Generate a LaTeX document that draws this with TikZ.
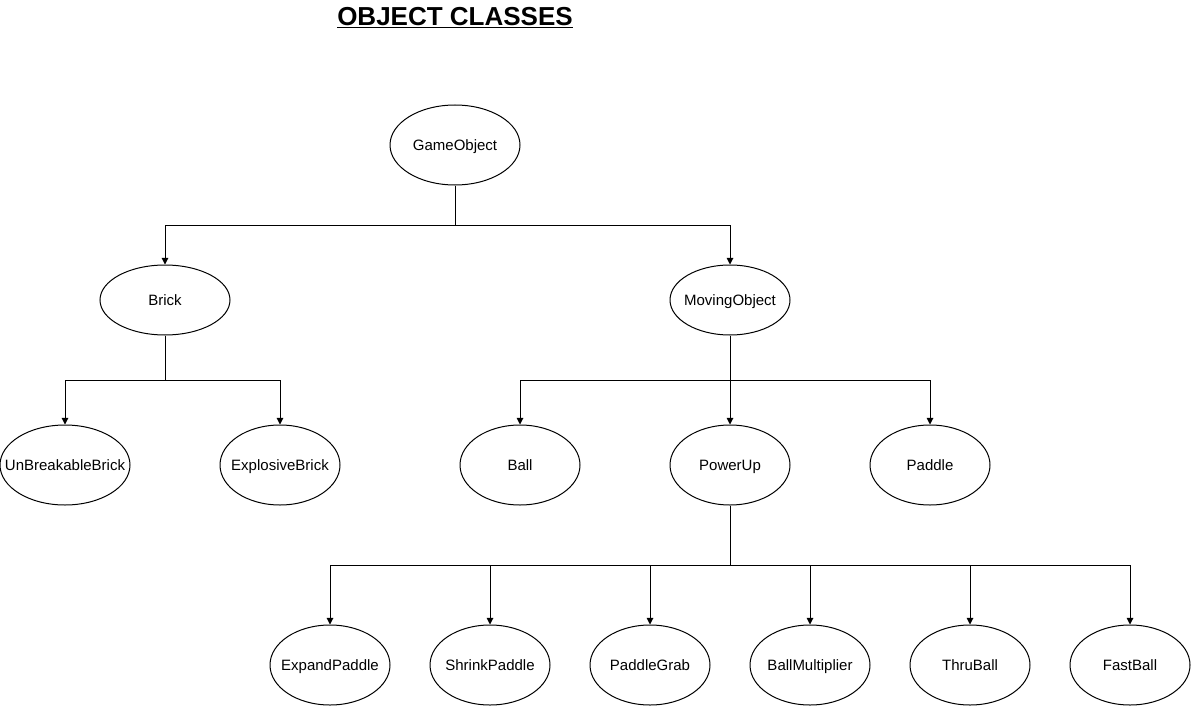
\documentclass[tikz,border=0pt]{standalone}
\usepackage{fontspec}
\setmainfont{Liberation Sans}
\usetikzlibrary{shapes.geometric,arrows.meta}
\begin{document}
\begin{tikzpicture}[x=0.75pt,y=-0.75pt,
  oval/.style={ellipse,draw=black,line width=0.75pt,inner sep=0pt},
  w120/.style={minimum width=90pt,minimum height=60pt},
  w130/.style={minimum width=97.5pt,minimum height=60pt},
  w130s/.style={minimum width=97.5pt,minimum height=52.5pt},
  w120s/.style={minimum width=90pt,minimum height=52.5pt},
  lbl/.style={font=\fontsize{11.25}{13}\selectfont,inner sep=0pt,text height=8pt,text depth=0pt},
  ln/.style={line width=0.75pt},
  arr/.style={line width=0.75pt,-{Triangle[length=5pt,width=5pt]}}]
\useasboundingbox (0,0) rectangle (1191,706);
\node[font=\fontsize{19.5}{22}\selectfont\bfseries,text height=14pt,text depth=0pt] (title) at (455,16) {\underline{OBJECT CLASSES}};
% nodes
\node[oval,w130] (go) at (455,145) {};
\node[lbl] (tgo) at (go) {GameObject};
\node[oval,w130s] (brick) at (165,300) {};
\node[lbl] (tbrick) at (brick) {Brick};
\node[oval,w120s] (mo) at (730,300) {};
\node[lbl] (tmo) at (mo) {MovingObject};
\node[oval,w130] (ubb) at (65,465) {};
\node[lbl] (tubb) at (ubb) {UnBreakableBrick};
\node[oval,w120] (eb) at (280,465) {};
\node[lbl] (teb) at (eb) {ExplosiveBrick};
\node[oval,w120] (ball) at (520,465) {};
\node[lbl] (tball) at (ball) {Ball};
\node[oval,w120] (pu) at (730,465) {};
\node[lbl] (tpu) at (pu) {PowerUp};
\node[oval,w120] (pad) at (930,465) {};
\node[lbl] (tpad) at (pad) {Paddle};
\node[oval,w120] (ep) at (330,665) {};
\node[lbl] (tep) at (ep) {ExpandPaddle};
\node[oval,w120] (sp) at (490,665) {};
\node[lbl] (tsp) at (sp) {ShrinkPaddle};
\node[oval,w120] (pg) at (650,665) {};
\node[lbl] (tpg) at (pg) {PaddleGrab};
\node[oval,w120] (bm) at (810,665) {};
\node[lbl] (tbm) at (bm) {BallMultiplier};
\node[oval,w120] (tb) at (970,665) {};
\node[lbl] (ttb) at (tb) {ThruBall};
\node[oval,w120] (fb) at (1130,665) {};
\node[lbl] (tfb) at (fb) {FastBall};
% junctions
\coordinate (j1) at (455,225);
\coordinate (j2) at (165,380);
\coordinate (j3) at (730,380);
\coordinate (j4) at (730,565);
% connectors
\draw[ln] (go.south) -- (j1);
\draw[arr] (j1) -| (brick.north);
\draw[arr] (j1) -| (mo.north);
\draw[ln] (brick.south) -- (j2);
\draw[arr] (j2) -| (ubb.north);
\draw[arr] (j2) -| (eb.north);
\draw[ln] (mo.south) -- (j3);
\draw[arr] (j3) -| (ball.north);
\draw[arr] (j3) -- (pu.north);
\draw[arr] (j3) -| (pad.north);
\draw[ln] (pu.south) -- (j4);
\draw[arr] (j4) -| (ep.north);
\draw[arr] (j4) -| (sp.north);
\draw[arr] (j4) -| (pg.north);
\draw[arr] (j4) -| (bm.north);
\draw[arr] (j4) -| (tb.north);
\draw[arr] (j4) -| (fb.north);
\end{tikzpicture}
\end{document}
